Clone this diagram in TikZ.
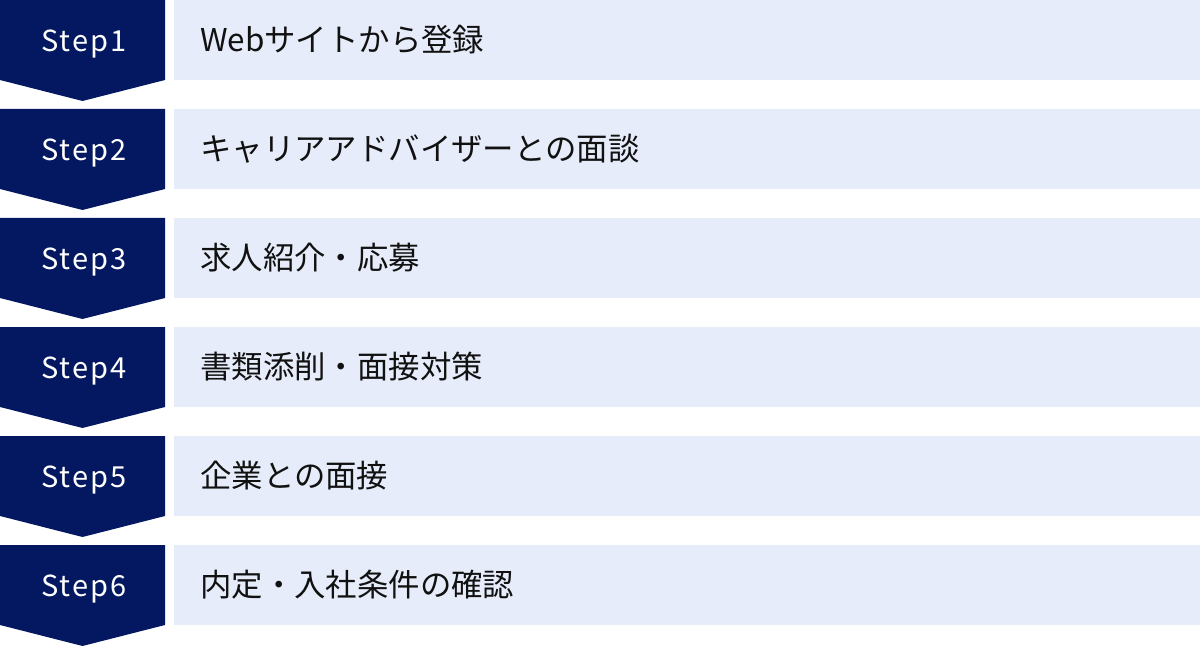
\documentclass[tikz,border=0pt]{standalone}
\usepackage{fontspec}
\setmainfont{Noto Sans}
\newfontfamily\jpfont{Noto Sans CJK JP}
\newfontfamily\stepfont[LetterSpace=7]{Noto Sans CJK JP}
\definecolor{navy}{RGB}{4,24,97}
\definecolor{lightbox}{RGB}{230,236,249}
\definecolor{txt}{RGB}{17,17,17}
\tikzset{
  chevron/.style={fill=navy,draw=none},
  steplabel/.style={text=white,font=\stepfont\fontsize{29}{29}\selectfont,inner sep=0pt,anchor=base},
  contentbox/.style={fill=lightbox,draw=none,inner sep=0pt,minimum width=1026pt,minimum height=80pt,anchor=north west},
  contenttext/.style={text=txt,font=\jpfont\fontsize{31.4}{31.4}\selectfont,inner sep=0pt,anchor=west}
}
\begin{document}
\begin{tikzpicture}[x=1pt,y=-1pt]
\useasboundingbox (0,0) rectangle (1200,647);
\foreach \i/\t in {1/Webサイトから登録,2/キャリアアドバイザーとの面談,3/求人紹介・応募,4/書類添削・面接対策,5/企業との面接,6/内定・入社条件の確認}{
  \pgfmathsetmacro{\top}{109*(\i-1)}
  \path[chevron] (0,\top) -- (165,\top) -- (165,\top+80) -- (82.5,\top+101) -- (0,\top+80) -- cycle;
  \node[steplabel] (s\i) at (84,\top+51.5) {Step\i};
  \node[contentbox] (b\i) at (174,\top) {};
  \node[contenttext] (t\i) at (200,\top+40) {\t};
}
\end{tikzpicture}
\end{document}
